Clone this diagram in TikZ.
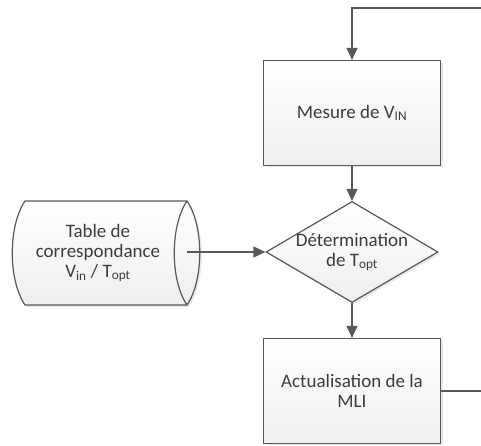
\documentclass[tikz,border=0pt]{standalone}
\usepackage{fontspec}
\setmainfont{Carlito}
\usetikzlibrary{arrows.meta,shapes.geometric,shadows}

\definecolor{edge}{RGB}{88,88,88}
\definecolor{ink}{RGB}{60,60,60}

\tikzset{
  txt/.style={align=center, text=ink, font=\fontsize{19}{20}\selectfont, inner sep=0pt},
  block/.style={txt, draw=edge, line width=1.2pt, top color=white, bottom color=gray!13,
    minimum width=177pt, minimum height=105pt,
    drop shadow={opacity=0.18, shadow xshift=2pt, shadow yshift=-2pt}},
  decision/.style={diamond, draw=edge, line width=1.2pt, top color=white, bottom color=gray!13,
    minimum width=172pt, minimum height=101pt, inner sep=0pt,
    drop shadow={opacity=0.18, shadow xshift=2pt, shadow yshift=-2pt}},
  store/.style={draw=edge, line width=1.2pt, top color=white, bottom color=gray!13,
    drop shadow={opacity=0.18, shadow xshift=2pt, shadow yshift=-2pt}},
  link/.style={draw=edge, line width=1.2pt},
  flow/.style={link, -{Triangle[length=12pt,width=11pt]}}
}

\begin{document}
\begin{tikzpicture}[x=1pt,y=1pt]
  \useasboundingbox (0,0) rectangle (481,446);

  % column of the flowchart
  \def\cx{352}

  % coordinates
  \coordinate (loop in) at (481,438);
  \coordinate (loop out) at (481,55);
  \coordinate (tab out) at (187,194);

  % blocks
  \node[block] (mesure) at (\cx,333) {Mesure de V\textsubscript{IN}};
  \node[decision] (det) at (\cx,194) {};
  \node[txt] (det text) at (det) {Détermination\\de T\textsubscript{opt}};
  \node[block] (maj) at (\cx,55) {Actualisation de la\\MLI};

  % lookup table (data store)
  \draw[store] (25,245) -- (187,245) .. controls (204,220) and (204,166) .. (187,141)
    -- (25,141) .. controls (8,166) and (8,220) .. (25,245) -- cycle;
  \draw[link] (187,245) .. controls (170,220) and (170,166) .. (187,141);
  \node[txt] (tab) at (98,193) {Table de\\correspondance\\V\textsubscript{in} / T\textsubscript{opt}};

  % connectors
  \draw[flow] (loop in) -| (mesure.north);
  \draw[flow] (mesure) -- (det);
  \draw[flow] (tab out) -- (det.west);
  \draw[flow] (det) -- (maj);
  \draw[link] (maj.east) -- (loop out);

\end{tikzpicture}
\end{document}
